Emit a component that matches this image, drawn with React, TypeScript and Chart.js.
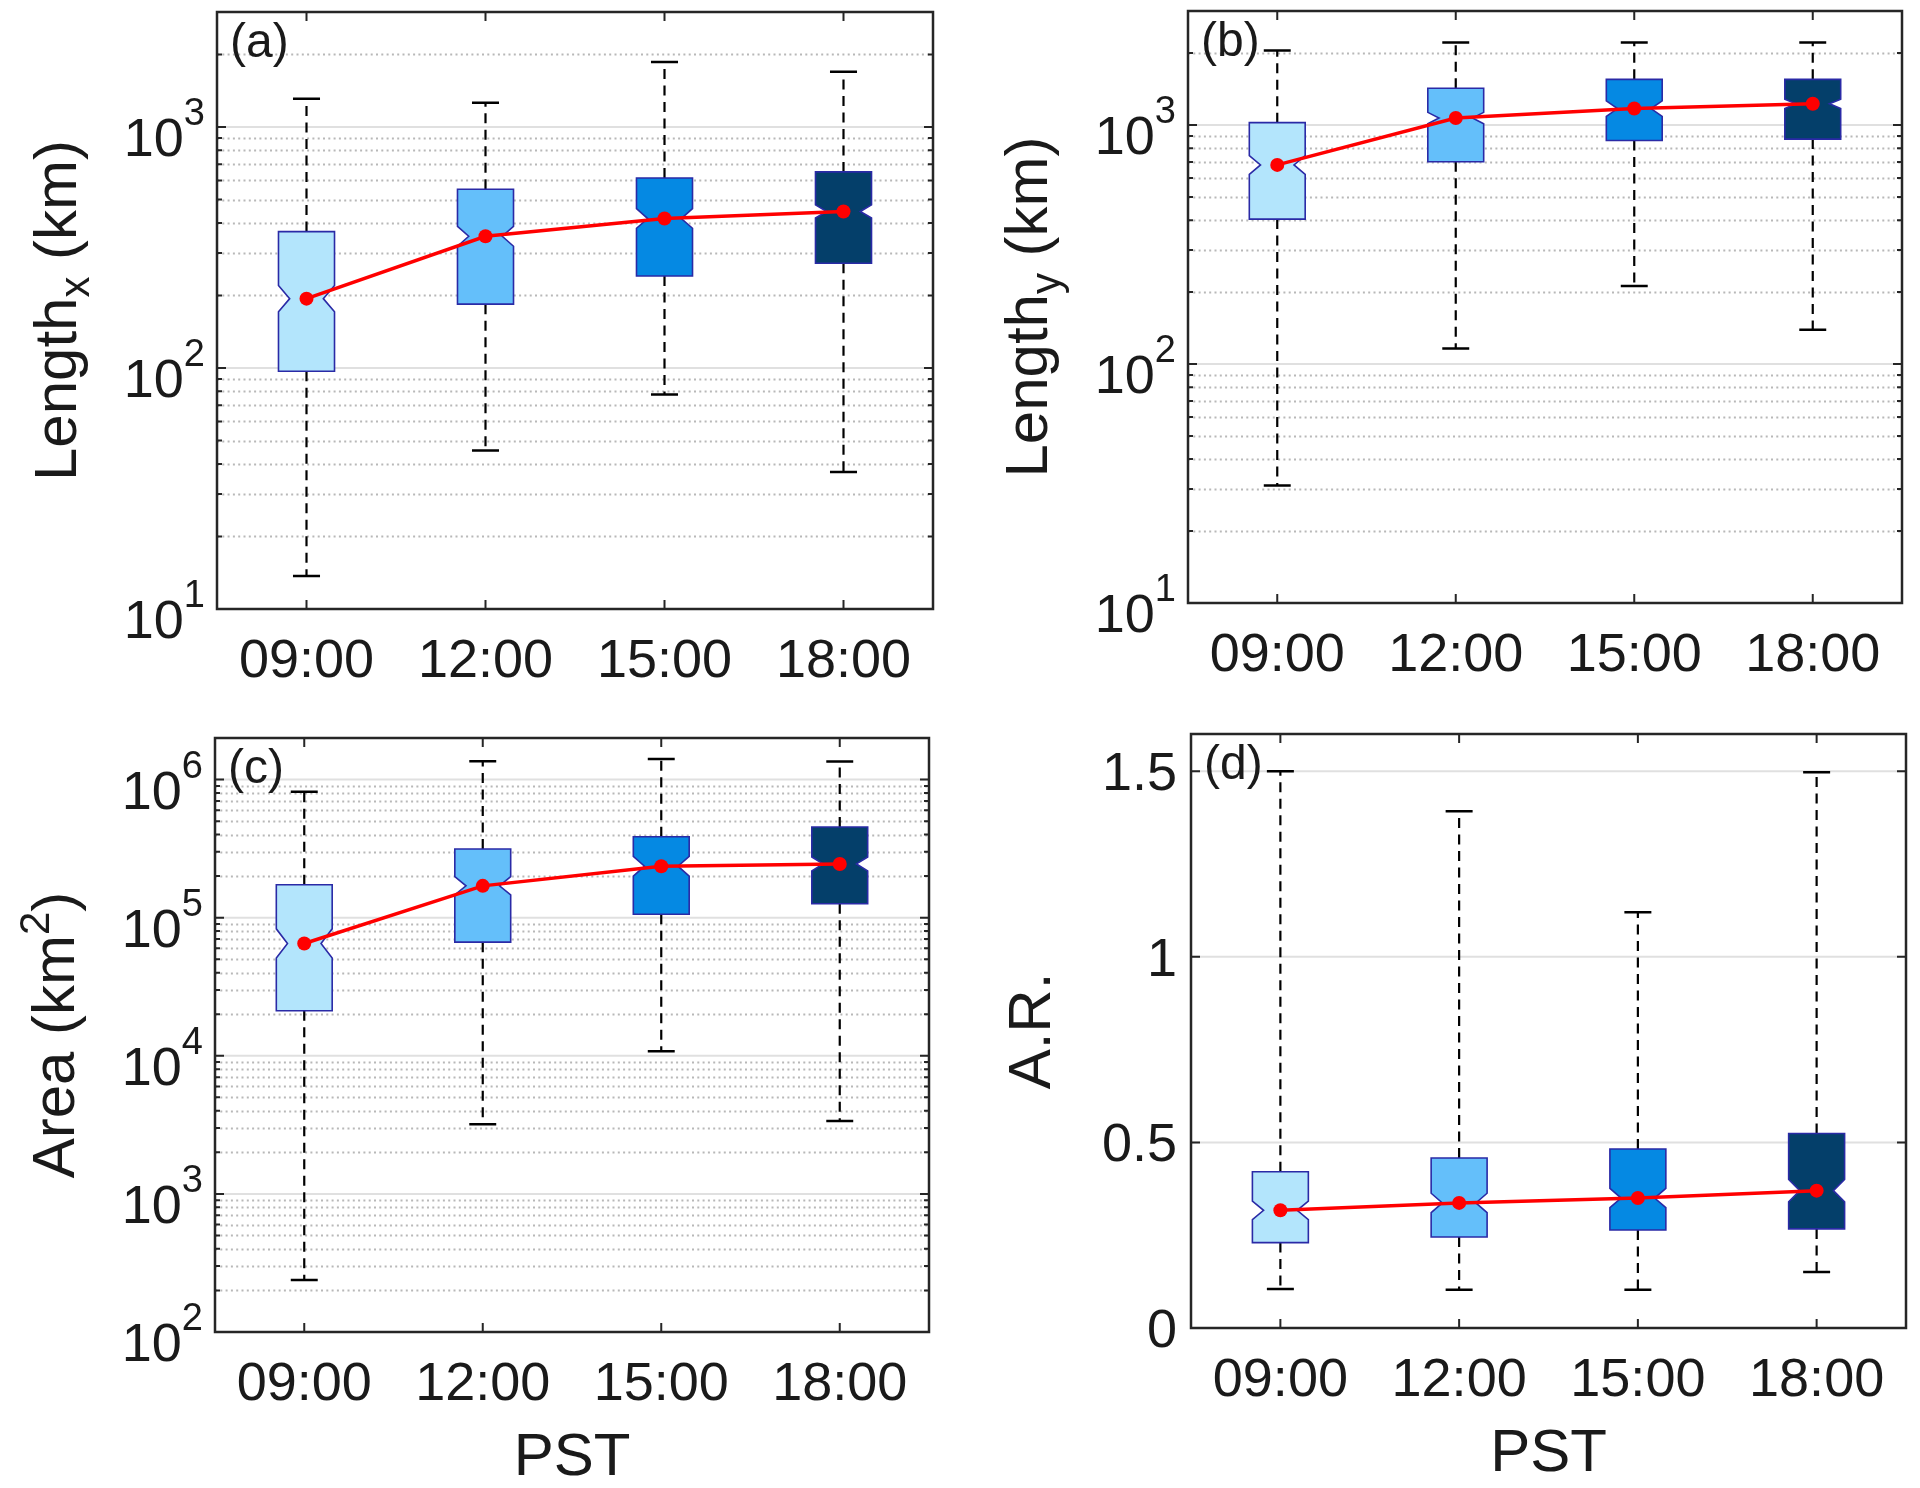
import React, { useEffect, useRef } from 'react';
import { Chart, registerables } from 'chart.js';
Chart.register(...registerables);

// ---------- data ----------
const categories = ['09:00', '12:00', '15:00', '18:00'];

// (a) Length_x (km)
const lenXLow = [13.7, 45.5, 77.7, 37];
const lenXQ1 = [97, 184, 241, 272];
const lenXMedian = [194, 352, 417, 446];
const lenXQ3 = [368, 552, 614, 651];
const lenXHigh = [1310, 1262, 1860, 1695];
const lenXNotchLo = [171, 320, 380, 419];
const lenXNotchHi = [220, 387, 458, 475];

// (b) Length_y (km)
const lenYLow = [31, 116, 212, 139];
const lenYQ1 = [404, 702, 861, 873];
const lenYMedian = [681, 1070, 1172, 1227];
const lenYQ3 = [1023, 1425, 1553, 1553];
const lenYHigh = [2048, 2213, 2213, 2213];
const lenYNotchLo = [622, 1013, 1087, 1173];
const lenYNotchHi = [745, 1130, 1263, 1283];

// (c) Area (km^2)
const areaLow = [238, 3190, 10800, 3370];
const areaQ1 = [21200, 66500, 106000, 126000];
const areaMedian = [65000, 170000, 236000, 245000];
const areaQ3 = [173000, 314000, 385000, 453000];
const areaHigh = [815000, 1360000, 1410000, 1350000];
const areaNotchLo = [51000, 146000, 200000, 218000];
const areaNotchHi = [83000, 198000, 278000, 275000];

// (d) A.R.
const arLow = [0.105, 0.103, 0.103, 0.151];
const arQ1 = [0.23, 0.245, 0.264, 0.267];
const arMedian = [0.317, 0.337, 0.35, 0.37];
const arQ3 = [0.421, 0.458, 0.482, 0.524];
const arHigh = [1.5, 1.392, 1.12, 1.497];
const arNotchLo = [0.292, 0.311, 0.324, 0.34];
const arNotchHi = [0.342, 0.363, 0.376, 0.4];

// tick labels
const logExpAB = [1, 2, 3];
const logExpC = [2, 3, 4, 5, 6];
const linTicksD = [0, 0.5, 1, 1.5];
const linTickLabelsD = ['0', '0.5', '1', '1.5'];

// ---------- style ----------
const FONT = "'Liberation Sans', Arial, Helvetica, sans-serif";
const TEXT = '#1a1a1a';
const AXIS = '#262626';
const boxFills = ['#b3e5fc', '#64bffa', '#0589e3', '#043f6a'];
const boxEdge = '#2a2aa6';
const BOX_FRAC = 0.313;
const CAP_FRAC = 0.151;
const NOTCH_FRAC = 0.2;

type Seg = { text: string; size: number; dy: number };
type PanelDef = {
  key: string;
  letter: string;
  canvas: { left: number; top: number; width: number; height: number };
  pad: { left: number; top: number; right: number; bottom: number };
  log: boolean;
  yMin: number;
  yMax: number;
  exps?: number[];
  linTicks?: number[];
  linLabels?: string[];
  lo: number[];
  q1: number[];
  med: number[];
  q3: number[];
  hi: number[];
  nlo: number[];
  nhi: number[];
  title: Seg[];
  xTitle?: string;
};

const panels: PanelDef[] = [
  {
    key: 'a', letter: '(a)',
    canvas: { left: 0, top: 0, width: 960, height: 720 },
    pad: { left: 217, top: 12, right: 27, bottom: 111 },
    log: true, yMin: 10, yMax: 3000, exps: logExpAB,
    lo: lenXLow, q1: lenXQ1, med: lenXMedian, q3: lenXQ3, hi: lenXHigh, nlo: lenXNotchLo, nhi: lenXNotchHi,
    title: [{ text: 'Length', size: 60, dy: 0 }, { text: 'x', size: 42, dy: 13 }, { text: ' (km)', size: 60, dy: 0 }],
  },
  {
    key: 'b', letter: '(b)',
    canvas: { left: 960, top: 0, width: 960, height: 720 },
    pad: { left: 228, top: 11, right: 18, bottom: 117 },
    log: true, yMin: 10, yMax: 3000, exps: logExpAB,
    lo: lenYLow, q1: lenYQ1, med: lenYMedian, q3: lenYQ3, hi: lenYHigh, nlo: lenYNotchLo, nhi: lenYNotchHi,
    title: [{ text: 'Length', size: 60, dy: 0 }, { text: 'y', size: 42, dy: 13 }, { text: ' (km)', size: 60, dy: 0 }],
  },
  {
    key: 'c', letter: '(c)',
    canvas: { left: 0, top: 720, width: 960, height: 768 },
    pad: { left: 215, top: 18, right: 31, bottom: 156 },
    log: true, yMin: 100, yMax: 2e6, exps: logExpC,
    lo: areaLow, q1: areaQ1, med: areaMedian, q3: areaQ3, hi: areaHigh, nlo: areaNotchLo, nhi: areaNotchHi,
    title: [{ text: 'Area (km', size: 60, dy: 0 }, { text: '2', size: 42, dy: -25 }, { text: ')', size: 60, dy: 0 }],
    xTitle: 'PST',
  },
  {
    key: 'd', letter: '(d)',
    canvas: { left: 960, top: 720, width: 960, height: 768 },
    pad: { left: 231, top: 14, right: 14, bottom: 160 },
    log: false, yMin: 0, yMax: 1.6, linTicks: linTicksD, linLabels: linTickLabelsD,
    lo: arLow, q1: arQ1, med: arMedian, q3: arQ3, hi: arHigh, nlo: arNotchLo, nhi: arNotchHi,
    title: [{ text: 'A.R.', size: 60, dy: 0 }],
    xTitle: 'PST',
  },
];

function minorValues(p: PanelDef): number[] {
  const out: number[] = [];
  if (!p.log) return out;
  const e0 = Math.floor(Math.log10(p.yMin));
  const e1 = Math.ceil(Math.log10(p.yMax));
  for (let e = e0; e <= e1; e++) {
    for (let m = 2; m <= 9; m++) {
      const v = m * Math.pow(10, e);
      if (v > p.yMin * 1.0001 && v < p.yMax * 0.9999) out.push(v);
    }
  }
  return out;
}

function majorValues(p: PanelDef): number[] {
  if (p.log) return (p.exps || []).map((e) => Math.pow(10, e));
  return p.linTicks || [];
}

function makePlugin(p: PanelDef) {
  return {
    id: 'panel-' + p.key,
    beforeDatasetsDraw(chart: any) {
      const ctx: CanvasRenderingContext2D = chart.ctx;
      const { left, right } = chart.chartArea;
      const xs = chart.scales.x;
      const ys = chart.scales.y;
      ctx.save();
      // minor grid (dotted)
      ctx.strokeStyle = '#b8b8b8';
      ctx.lineWidth = 1.8;
      ctx.setLineDash([2, 3.3]);
      for (const v of minorValues(p)) {
        const y = Math.round(ys.getPixelForValue(v)) + 0.5;
        ctx.beginPath();
        ctx.moveTo(left, y);
        ctx.lineTo(right, y);
        ctx.stroke();
      }
      // major grid (solid)
      ctx.setLineDash([]);
      ctx.strokeStyle = '#e0e0e0';
      ctx.lineWidth = 2;
      for (const v of majorValues(p)) {
        if (v <= p.yMin || v >= p.yMax) continue;
        const y = ys.getPixelForValue(v);
        ctx.beginPath();
        ctx.moveTo(left, y);
        ctx.lineTo(right, y);
        ctx.stroke();
      }
      const step = xs.getPixelForValue(1) - xs.getPixelForValue(0);
      const bw = step * BOX_FRAC;
      const cw = step * CAP_FRAC;
      for (let i = 0; i < categories.length; i++) {
        const cx = xs.getPixelForValue(i);
        const yLo = ys.getPixelForValue(p.lo[i]);
        const yQ1 = ys.getPixelForValue(p.q1[i]);
        const yMed = ys.getPixelForValue(p.med[i]);
        const yQ3 = ys.getPixelForValue(p.q3[i]);
        const yHi = ys.getPixelForValue(p.hi[i]);
        const yNlo = ys.getPixelForValue(p.nlo[i]);
        const yNhi = ys.getPixelForValue(p.nhi[i]);
        // whiskers
        ctx.strokeStyle = '#000';
        ctx.lineWidth = 2.2;
        ctx.setLineDash([10, 6.5]);
        ctx.beginPath();
        ctx.moveTo(cx, yQ3);
        ctx.lineTo(cx, yHi);
        ctx.moveTo(cx, yQ1);
        ctx.lineTo(cx, yLo);
        ctx.stroke();
        ctx.setLineDash([]);
        ctx.lineWidth = 2.5;
        ctx.beginPath();
        ctx.moveTo(cx - cw / 2, yHi);
        ctx.lineTo(cx + cw / 2, yHi);
        ctx.moveTo(cx - cw / 2, yLo);
        ctx.lineTo(cx + cw / 2, yLo);
        ctx.stroke();
        // notched box
        const l = cx - bw / 2;
        const r = cx + bw / 2;
        const ind = bw * NOTCH_FRAC;
        ctx.beginPath();
        ctx.moveTo(l, yQ3);
        ctx.lineTo(r, yQ3);
        ctx.lineTo(r, yNhi);
        ctx.lineTo(r - ind, yMed);
        ctx.lineTo(r, yNlo);
        ctx.lineTo(r, yQ1);
        ctx.lineTo(l, yQ1);
        ctx.lineTo(l, yNlo);
        ctx.lineTo(l + ind, yMed);
        ctx.lineTo(l, yNhi);
        ctx.closePath();
        ctx.fillStyle = boxFills[i];
        ctx.fill();
        ctx.strokeStyle = boxEdge;
        ctx.lineWidth = 1.6;
        ctx.stroke();
      }
      ctx.restore();
    },
    afterDraw(chart: any) {
      const ctx: CanvasRenderingContext2D = chart.ctx;
      const { left, right, top, bottom } = chart.chartArea;
      const xs = chart.scales.x;
      const ys = chart.scales.y;
      ctx.save();
      ctx.setLineDash([]);
      ctx.strokeStyle = AXIS;
      // ticks
      ctx.lineWidth = 2;
      ctx.beginPath();
      for (let i = 0; i < categories.length; i++) {
        const x = xs.getPixelForValue(i);
        ctx.moveTo(x, bottom);
        ctx.lineTo(x, bottom - 9);
        ctx.moveTo(x, top);
        ctx.lineTo(x, top + 9);
      }
      for (const v of majorValues(p)) {
        const y = ys.getPixelForValue(v);
        ctx.moveTo(left, y);
        ctx.lineTo(left + 9, y);
        ctx.moveTo(right, y);
        ctx.lineTo(right - 9, y);
      }
      for (const v of minorValues(p)) {
        const y = ys.getPixelForValue(v);
        ctx.moveTo(left, y);
        ctx.lineTo(left + 5, y);
        ctx.moveTo(right, y);
        ctx.lineTo(right - 5, y);
      }
      ctx.stroke();
      // border
      ctx.lineWidth = 2.5;
      ctx.strokeRect(left, top, right - left, bottom - top);

      ctx.fillStyle = TEXT;
      // x tick labels
      ctx.font = `54px ${FONT}`;
      ctx.textAlign = 'center';
      ctx.textBaseline = 'alphabetic';
      for (let i = 0; i < categories.length; i++) {
        ctx.fillText(categories[i], xs.getPixelForValue(i), bottom + 68);
      }
      // y tick labels
      if (p.log) {
        for (const e of p.exps || []) {
          const y = ys.getPixelForValue(Math.pow(10, e));
          ctx.textAlign = 'right';
          ctx.font = `38px ${FONT}`;
          const es = String(e);
          const ew = ctx.measureText(es).width;
          ctx.fillText(es, left - 12, y - 2);
          ctx.font = `54px ${FONT}`;
          ctx.fillText('10', left - 12 - ew, y + 29);
        }
      } else {
        ctx.font = `54px ${FONT}`;
        ctx.textAlign = 'right';
        (p.linTicks || []).forEach((v, k) => {
          const y = ys.getPixelForValue(v);
          ctx.fillText((p.linLabels || [])[k], left - 14, y + 19);
        });
      }
      // y title (rotated, with sub/superscripts)
      const cy = (top + bottom) / 2;
      ctx.save();
      ctx.translate(left - 141, cy);
      ctx.rotate(-Math.PI / 2);
      ctx.textAlign = 'left';
      const widths = p.title.map((s) => {
        ctx.font = `${s.size}px ${FONT}`;
        return ctx.measureText(s.text).width;
      });
      let tx = -widths.reduce((a, b) => a + b, 0) / 2;
      p.title.forEach((s, k) => {
        ctx.font = `${s.size}px ${FONT}`;
        ctx.fillText(s.text, tx, s.dy);
        tx += widths[k];
      });
      ctx.restore();
      // x title
      if (p.xTitle) {
        ctx.font = `60px ${FONT}`;
        ctx.textAlign = 'center';
        ctx.fillText(p.xTitle, (left + right) / 2, bottom + 143);
      }
      // panel letter
      ctx.font = `48px ${FONT}`;
      ctx.textAlign = 'left';
      ctx.fillText(p.letter, left + 13, top + 45);
      ctx.restore();
    },
  };
}

function PanelChart({ p }: { p: PanelDef }) {
  const ref = useRef<HTMLCanvasElement>(null);
  useEffect(() => {
    const chart = new Chart(ref.current as HTMLCanvasElement, {
      type: 'line',
      data: {
        labels: categories,
        datasets: [
          {
            data: p.med,
            borderColor: '#ff0000',
            backgroundColor: '#ff0000',
            borderWidth: 3.5,
            pointRadius: 7,
            pointBackgroundColor: '#ff0000',
            pointBorderColor: '#ff0000',
            pointBorderWidth: 0,
            tension: 0,
            fill: false,
          },
        ],
      },
      options: {
        animation: false,
        responsive: false,
        maintainAspectRatio: false,
        devicePixelRatio: 1,
        layout: { padding: p.pad, autoPadding: false } as any,
        plugins: { legend: { display: false }, tooltip: { enabled: false }, title: { display: false } },
        scales: {
          x: { type: 'category', offset: true, display: false },
          y: { type: p.log ? 'logarithmic' : 'linear', min: p.yMin, max: p.yMax, display: false },
        },
      } as any,
      plugins: [makePlugin(p)],
    });
    return () => chart.destroy();
  }, [p]);
  return (
    <canvas
      ref={ref}
      width={p.canvas.width}
      height={p.canvas.height}
      style={{ position: 'absolute', left: p.canvas.left, top: p.canvas.top, width: p.canvas.width, height: p.canvas.height }}
    />
  );
}

export default function App() {
  return (
    <div style={{ position: 'absolute', left: 0, top: 0, width: 1920, height: 1488, background: '#ffffff' }}>
      {panels.map((p) => (
        <PanelChart key={p.key} p={p} />
      ))}
    </div>
  );
}
